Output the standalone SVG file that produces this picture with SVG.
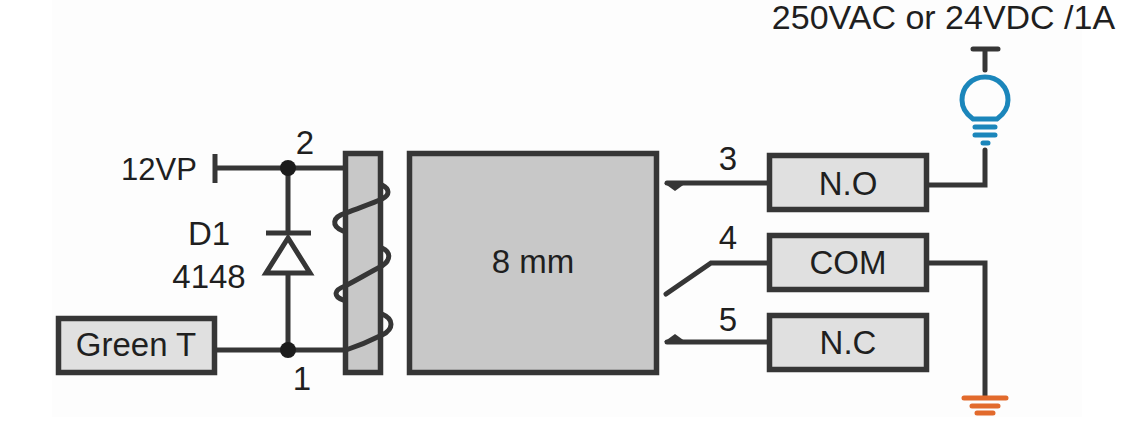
<svg xmlns="http://www.w3.org/2000/svg" width="1135" height="447" viewBox="0 0 1135 447">
<style>
.w{fill:none;stroke:#363636;stroke-width:5;stroke-linejoin:miter}
.r{stroke:#363636;stroke-width:5.5;fill:#e0e0e0}
.g{stroke:#363636;stroke-width:5.5;fill:#c8c8c8}
.c{fill:none;stroke:#363636;stroke-width:5;stroke-linecap:round;stroke-linejoin:round}
.t{font-family:"Liberation Sans",Arial,sans-serif;font-size:33px;fill:#1f1f1f;text-anchor:middle}
.b{fill:none;stroke:#1b86bb;stroke-width:5;stroke-linecap:round}
.o{fill:none;stroke:#e26a2c;stroke-width:5;stroke-linecap:round}
</style>
<rect width="1135" height="447" fill="#ffffff"/>
<rect x="52" y="0" width="1030" height="417" fill="#fdfdfd"/>
<g id="connectors">
<path class="w" d="M215 168H345"/>
<path class="w" d="M215 154V183"/>
<path class="w" d="M288 168V233M288 272V350"/>
<path class="w" d="M217 350H345"/>
<path class="w" d="M266 233H311"/>
<path class="w" d="M288 238L266 273H310Z"/>
<path class="w" stroke-linecap="round" d="M667 183H767"/>
<path d="M664 183H686L675 191Z" fill="#363636"/>
<path class="w" stroke-linecap="round" stroke-linejoin="round" d="M666 294L711 263H767"/>
<path class="w" stroke-linecap="round" d="M667 342H767"/>
<path d="M664 342H686L675 334Z" fill="#363636"/>
<path class="w" stroke-linecap="round" d="M929 185H985V150"/>
<path class="w" d="M929 263H985V396"/>
<path class="w" stroke-linecap="round" d="M973 49H998M985 49V70"/>
</g>
<g id="relay-coil">
<rect class="g" x="345.500" y="153.500" width="35" height="219"/>
<path class="c" d="M346 350C358 346 372 340 382 335C394 329 394 319 382 314"/>
<path class="c" d="M343 300C333 296 334 290 345 286C357 280 370 272 382 266C391 260 391 252 382 248"/>
<path class="c" d="M343 231C331 226 332 217 346 213C358 208 371 204 382 199C390 195 390 189 382 185"/>
</g>
<g id="relay-body">
<rect class="g" x="409.500" y="153.500" width="247" height="219"/>
<text class="t" x="533" y="273">8 mm</text>
</g>
<g id="green-t">
<rect class="r" x="58.500" y="318.500" width="156" height="54"/>
<text class="t" x="136" y="356" font-size="32">Green T</text>
</g>
<g id="node-no">
<rect class="r" x="769.500" y="155.500" width="157" height="54"/>
<text class="t" x="848" y="195">N.O</text>
</g>
<g id="node-com">
<rect class="r" x="769.500" y="235.500" width="157" height="54"/>
<text class="t" x="848" y="274">COM</text>
</g>
<g id="node-nc">
<rect class="r" x="769.500" y="315.500" width="157" height="54"/>
<text class="t" x="848" y="354">N.C</text>
</g>
<g id="junction-2">
<circle cx="288" cy="168" r="8" fill="#1c1c1c"/>
<text class="t" x="305" y="154">2</text>
</g>
<g id="junction-1">
<circle cx="288" cy="350" r="8" fill="#1c1c1c"/>
<text class="t" x="302" y="390">1</text>
</g>
<g id="labels">
<text class="t" x="159" y="180" style="font-size:31px">12VP</text>
<text class="t" x="209" y="245">D1</text>
<text class="t" x="209" y="288">4148</text>
<text class="t" x="728" y="170">3</text>
<text class="t" x="728" y="249">4</text>
<text class="t" x="728" y="331">5</text>
<text class="t" x="943.500" y="29" style="font-size:34px">250VAC or 24VDC /1A</text>
</g>
<g id="lamp">
<path class="b" d="M973 119C966 114 962 108 962 100C962 87 972 77 985 77C998 77 1008 87 1008 100C1008 108 1004 114 997 119Z"/>
<path class="b" d="M975 127H995M975 135H995M983 143H988"/>
</g>
<g id="ground">
<path class="o" d="M964 398H1006M972 406H998M977 413H993"/>
</g>
</svg>
